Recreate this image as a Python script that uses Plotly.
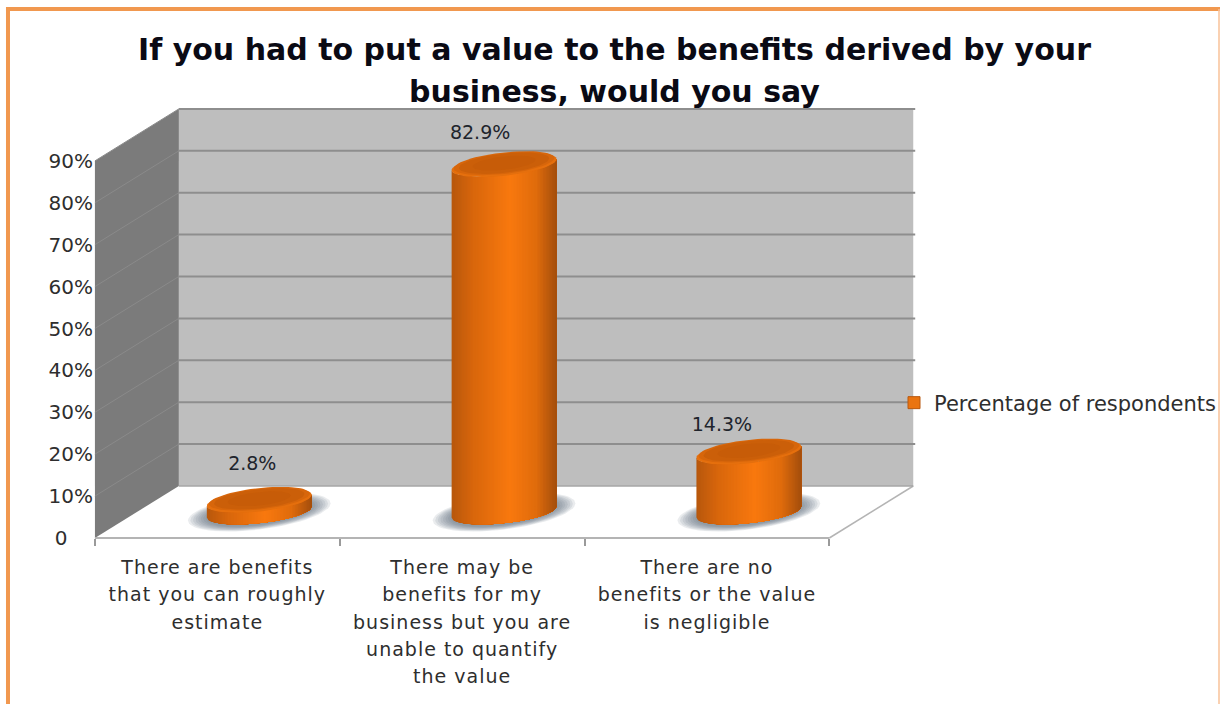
import numpy as np
import plotly.graph_objects as go

# Chart content
title_lines = ["If you had to put a value to the benefits derived by your", "business, would you say"]
categories = [
    ["There are benefits", "that you can roughly", "estimate"],
    ["There may be", "benefits for my", "business but you are", "unable to quantify", "the value"],
    ["There are no", "benefits or the value", "is negligible"],
]
values = [2.8, 82.9, 14.3]
series_name = "Percentage of respondents"
axis_values = [0, 10, 20, 30, 40, 50, 60, 70, 80, 90]
axis_labels = ["0\u00a0\u00a0\u00a0\u00a0", "10%", "20%", "30%", "40%", "50%", "60%", "70%", "80%", "90%"]

# Page and oblique projection set-up
W, H = 1221, 704
ORIGIN_X, ORIGIN_Y = 95, 538     # page position of the front axis corner
PX_PER_CAT, PX_PER_PCT = 245, 4.19
DEPTH_X, DEPTH_Y = 84 / PX_PER_CAT, 52 / PX_PER_PCT
RX = 52.5 / PX_PER_CAT
RY_SIN, RY_COS = 11.2 / PX_PER_PCT, 5.5 / PX_PER_PCT

FONT = "DejaVu Sans"
TEXT = "#2e2e2e"


def proj(cat, depth, val):
    return cat + depth * DEPTH_X, val + depth * DEPTH_Y


def hex_mix(stops, f):
    pos = [s[0] for s in stops]
    rgb = np.array([[int(s[1][i:i + 2], 16) for i in (1, 3, 5)] for s in stops])
    return "rgb(%d,%d,%d)" % tuple(np.interp(f, pos, rgb[:, k]) for k in range(3))


def ring(cx, cy, t, scale=1.0, yscale=1.0):
    return (cx + scale * RX * np.cos(t),
            cy + scale * yscale * (RY_COS * np.cos(t) + RY_SIN * np.sin(t)))


def polygon(fig, xs, ys, color, line=None, width=0):
    fig.add_trace(go.Scatter(
        x=list(xs), y=list(ys), mode="lines", fill="toself", fillcolor=color,
        line=dict(color=line or color, width=width), hoverinfo="skip", showlegend=False))


def segment(fig, a, b, color, width):
    fig.add_trace(go.Scatter(
        x=[a[0], b[0]], y=[a[1], b[1]], mode="lines",
        line=dict(color=color, width=width), hoverinfo="skip", showlegend=False))


def lines_html(lines, size, spacing=0.0):
    style = f"font-size:{size}px;letter-spacing:{spacing}px"
    return "<br>".join(f'<span style="{style}">{s}</span>' for s in lines)


fig = go.Figure()

# Walls and floor
top = max(axis_values)
corners = lambda pts: zip(*[proj(*p) for p in pts])
polygon(fig, *corners([(0, 0, 0), (3, 0, 0), (3, 1, 0), (0, 1, 0), (0, 0, 0)]), "#ffffff")
polygon(fig, *corners([(0, 1, 0), (3, 1, 0), (3, 1, top), (0, 1, top), (0, 1, 0)]), "#bebebe")
polygon(fig, *corners([(0, 0, 0), (0, 1, 0), (0, 1, top), (0, 0, top), (0, 0, 0)]), "#7b7b7b")

for v in axis_values[1:]:
    segment(fig, proj(0, 0, v), proj(0, 1, v), "#8a8a8a", 1)
    segment(fig, proj(0, 1, v), proj(3.008, 1, v), "#8e8e8e", 2)
segment(fig, proj(0, 0, 0), proj(3, 0, 0), "#b4b4b4", 2)
segment(fig, proj(3, 0, 0), proj(3, 1, 0), "#b4b4b4", 1.5)
segment(fig, proj(0, 1, 0), proj(3, 1, 0), "#a6a6a6", 1.5)

# Cylinders
SIDE = [(0, "#b9580c"), (0.2, "#d9670c"), (0.55, "#f9790f"), (0.8, "#e06c0c"), (1, "#a24d0c")]
strip_pos = np.linspace(0, 1, 71)
angles = 2 * np.pi - np.arccos(2 * strip_pos - 1)   # evenly spaced across the visible width
full = np.linspace(0, 2 * np.pi, 73)

for i, v in enumerate(values):
    cx, cy = proj(i + 0.5, 0.5, 0)

    # Soft contact shadow
    for s in np.linspace(1.36, 1.02, 8):
        sx, sy = ring(cx, cy, full, s, yscale=1.15)
        polygon(fig, sx, sy, "rgba(95,105,120,0.13)")

    # Curved side, painted left to right so each strip overlaps the next
    for k in range(len(angles) - 1):
        arc = angles[k:]
        bx, by = ring(cx, cy, arc)
        polygon(fig, np.r_[bx, bx[::-1]], np.r_[by, by[::-1] + v], hex_mix(SIDE, strip_pos[k]))

    # Top face with a lighter front rim
    lift = 1.5 / PX_PER_PCT
    for s, c, dy in [(1.0, "#e56f0d", 0), (0.96, "#d7660b", lift), (0.86, "#cb5f09", lift), (0.6, "#c75c08", lift)]:
        ex, ey = ring(cx, cy + v + dy, full, s)
        polygon(fig, ex, ey, c)

# Value labels sit by hand-tuned page offsets from each cylinder top
label_dx = [-7, -24, -27]
label_dy = [35, 30, 26]
lx, ly = [], []
for i, v in enumerate(values):
    cx, cy = proj(i + 0.5, 0.5, v)
    lx.append(cx + label_dx[i] / PX_PER_CAT)
    ly.append(cy + label_dy[i] / PX_PER_PCT)
fig.add_trace(go.Scatter(
    x=lx, y=ly, mode="text", text=[f"{v}%" for v in values], textposition="middle center",
    textfont=dict(family=FONT, size=19, color="#20242c"), hoverinfo="skip", showlegend=False))

# Legend entry
fig.add_trace(go.Scatter(
    x=[None], y=[None], mode="markers", name=series_name, hoverinfo="skip",
    marker=dict(symbol="square", size=12, color="#ea7410", line=dict(color="#b9590e", width=1))))

fig.update_layout(
    width=W, height=H, margin=dict(l=0, r=0, t=0, b=0),
    paper_bgcolor="#ffffff", plot_bgcolor="#ffffff",
    font=dict(family=FONT, color=TEXT),
    title=dict(
        text="<b>" + lines_html(title_lines, 30) + "</b>",
        font=dict(family=FONT, size=32, color="#0a0a14"),
        x=615 / W, xanchor="center", xref="paper", y=1 - 60 / H, yanchor="bottom", yref="container",
    ),
    xaxis=dict(
        domain=[0, 1], range=[-ORIGIN_X / PX_PER_CAT, (W - ORIGIN_X) / PX_PER_CAT],
        anchor="free", position=(H - ORIGIN_Y) / H, showgrid=False, zeroline=False, showline=False,
        tickmode="array", tickvals=[0.5, 1.5, 2.5],
        ticktext=[lines_html(c, 19, 1) for c in categories], ticks="", ticklen=0,
        ticklabelstandoff=14,
        tickfont=dict(family=FONT, size=21, color=TEXT), tickangle=0, fixedrange=True,
        minor=dict(tickmode="array", tickvals=[0, 1, 2, 3], ticks="outside", ticklen=7,
                   tickcolor="#9a9a9a", tickwidth=2, showgrid=False),
    ),
    yaxis=dict(
        domain=[0, 1], range=[-(H - ORIGIN_Y) / PX_PER_PCT, ORIGIN_Y / PX_PER_PCT],
        anchor="free", position=ORIGIN_X / W, showgrid=False, zeroline=False, showline=False,
        tickmode="array", tickvals=axis_values, ticktext=axis_labels, ticks="", ticklabelstandoff=2,
        tickfont=dict(family=FONT, size=20, color=TEXT), fixedrange=True,
    ),
    legend=dict(
        x=895 / W, y=1 - 403 / H, xanchor="left", yanchor="middle", bgcolor="rgba(0,0,0,0)",
        font=dict(family=FONT, size=21, color=TEXT), itemwidth=30,
    ),
    showlegend=True,
    shapes=[
        dict(type="line", xref="paper", yref="paper", x0=6 / W, x1=1, y0=1 - 9 / H, y1=1 - 9 / H,
             line=dict(color="#f1984f", width=4)),
        dict(type="line", xref="paper", yref="paper", x0=8 / W, x1=8 / W, y0=-0.01, y1=1 - 7 / H,
             line=dict(color="#f1984f", width=4)),
        dict(type="line", xref="paper", yref="paper", x0=1220 / W, x1=1220 / W, y0=-0.01, y1=1 - 9 / H,
             line=dict(color="#f8c298", width=1.5)),
    ],
)

fig.write_html("out.html")
